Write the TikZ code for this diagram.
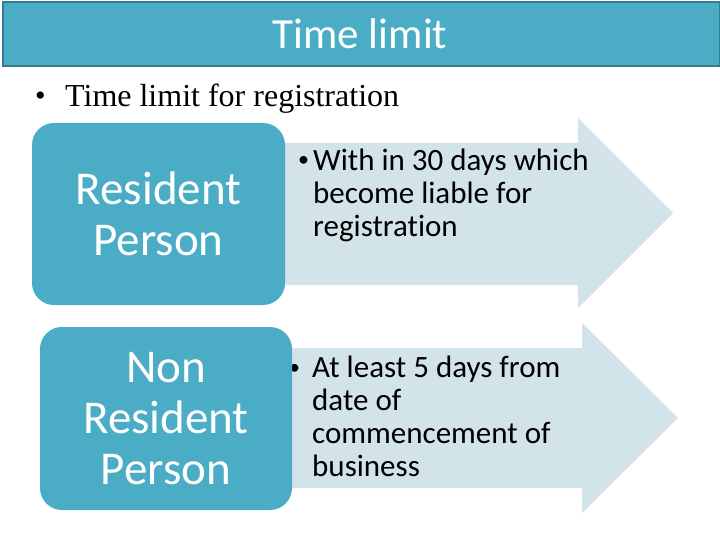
\documentclass[tikz,border=0pt]{standalone}
\usepackage{fontspec}
\setmainfont{Carlito}[Ligatures=NoCommon]
\newfontfamily\serifface{Liberation Serif}
\definecolor{tealmain}{RGB}{75,172,198}
\definecolor{tealdark}{RGB}{52,124,144}
\definecolor{arrowfill}{RGB}{211,227,234}
\tikzset{
  titlebar/.style={draw=tealdark, line width=2pt, fill=tealmain, inner sep=0pt},
  personbox/.style={fill=tealmain, rounded corners=22pt, inner sep=0pt, text=white,
    align=center, font=\fontsize{47}{51}\selectfont},
  arrowshape/.style={fill=arrowfill},
  pointtext/.style={inner sep=0pt, align=left, font=\fontsize{31}{33}\selectfont, text=black},
  bulletmark/.style={inner sep=0pt, font=\fontsize{22}{24}\selectfont, text=black}
}
\begin{document}
\begin{tikzpicture}[x=1pt,y=-1pt]
\useasboundingbox (0,0) rectangle (720,540);
\fill[white] (0,0) rectangle (720,540);
% title bar
\node[titlebar, minimum width=717pt, minimum height=64pt, anchor=north west] (bar) at (1.5,1.5) {};
\node[text=white, font=\fontsize{43}{46}\selectfont, inner sep=0pt] (title) at (360,34) {Time limit};
% subtitle
\node[inner sep=0pt, anchor=base west, font=\serifface\fontsize{30}{30}\selectfont] (subbullet) at (35,106) {\textbullet};
\node[inner sep=0pt, anchor=base west, font=\serifface\fontsize{32}{33}\selectfont] (subtitle) at (65,107) {Time limit for registration};
% arrows
\fill[arrowshape] (270,143) -- (578,143) -- (578,118) -- (673,213) -- (578,308) -- (578,285) -- (270,285) -- cycle;
\fill[arrowshape] (280,348) -- (582,348) -- (582,323) -- (678,418) -- (582,513) -- (582,488) -- (280,488) -- cycle;
% second bullet sits partly under the box
\node[bulletmark, anchor=base west] (b2) at (289,374) {\textbullet};
% boxes
\node[personbox, minimum width=253pt, minimum height=182pt] (res) at (158.5,214) {Resident\\Person};
\node[personbox, minimum width=252pt, minimum height=183pt] (nonres) at (166,418.5) {Non\\Resident\\Person};
% texts
\node[bulletmark, anchor=base west] (b1) at (298,167) {\textbullet};
\node[pointtext, anchor=north west] (t1) at (313,149) {With in 30 days which\\become liable for\\registration};
\node[pointtext, anchor=north west] (t2) at (312,356) {At least 5 days from\\date of\\commencement of\\business};
\end{tikzpicture}
\end{document}
